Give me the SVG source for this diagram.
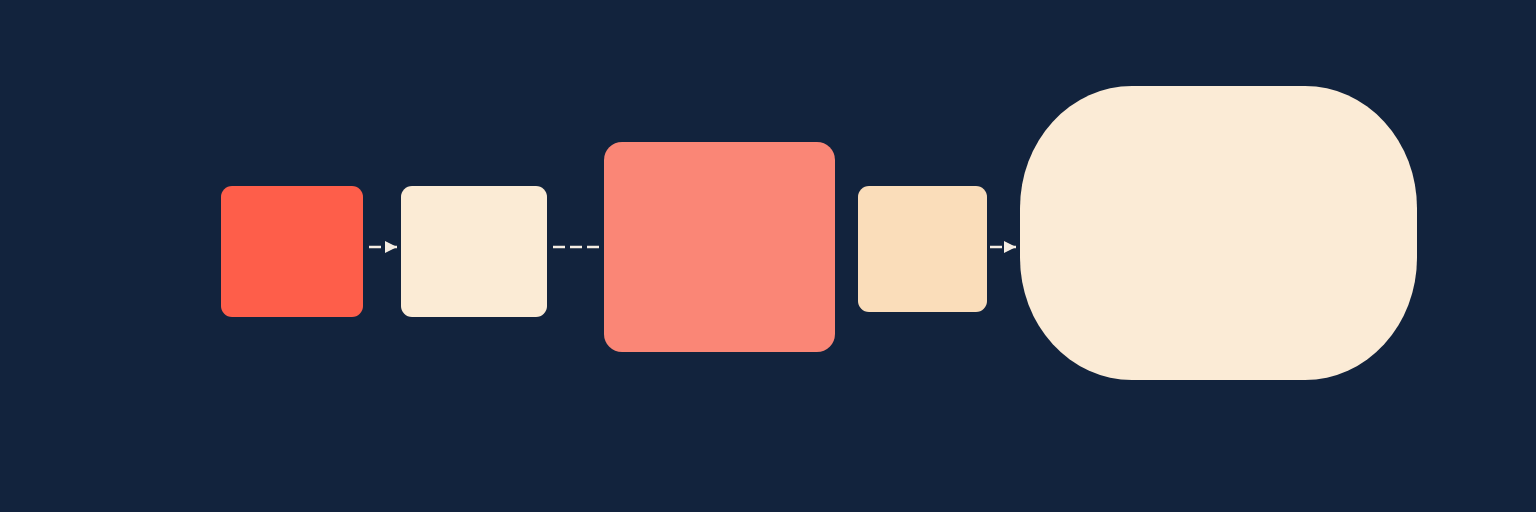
<svg xmlns="http://www.w3.org/2000/svg" width="1536" height="512" viewBox="0 0 1536 512">
<defs>
<style>
.c{stroke:#F5EDE3;stroke-width:2.5;fill:none;stroke-dasharray:12 5}
</style>
<marker id="ah" viewBox="0 0 10 10" refX="10" refY="5" markerWidth="12" markerHeight="12" markerUnits="userSpaceOnUse" orient="auto"><path d="M0,0 L10,5 L0,10 z" fill="#F5EDE3"/></marker>
</defs>
<rect width="1536" height="512" fill="#12233D"/>
<g id="connectors">
<path class="c" d="M369,247 H397" stroke-dasharray="13 5" marker-end="url(#ah)"/>
<path class="c" d="M553,247 H599"/>
<path class="c" d="M990,247 H1016" stroke-dasharray="13 3" marker-end="url(#ah)"/>
</g>
<g id="n1"><rect x="221" y="186" width="142" height="131" rx="11" fill="#FE5E4A"/></g>
<g id="n2"><rect x="401" y="186" width="146" height="131" rx="11" fill="#FBEBD5"/></g>
<g id="n3"><rect x="604" y="142" width="231" height="210" rx="18" fill="#FA8676"/></g>
<g id="n4"><rect x="858" y="186" width="129" height="126" rx="11" fill="#FADDBA"/></g>
<g id="n5"><rect x="1020" y="86" width="397" height="294" rx="112" ry="122" fill="#FBEBD6"/></g>
</svg>
